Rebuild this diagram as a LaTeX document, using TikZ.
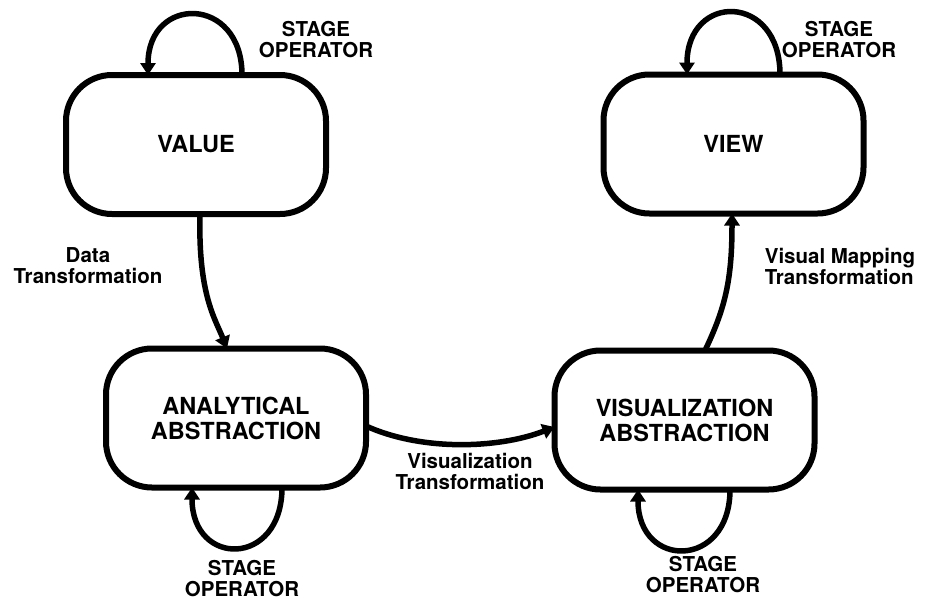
\documentclass[tikz,border=0pt]{standalone}
\usepackage{fontspec}
\setmainfont{TeX Gyre Heros}
\usetikzlibrary{arrows.meta,calc}

\tikzset{
  stage/.style={draw=black, line width=6pt, rounded corners=46pt,
    minimum width=260pt, minimum height=139pt, outer sep=0pt, inner sep=0pt,
    align=center, font=\fontsize{23.5}{25}\selectfont\bfseries},
  flow/.style={draw=black, line width=5.5pt,
    -{Triangle[width=15pt,length=12pt]}},
  lbl/.style={align=center, inner sep=0pt,
    font=\fontsize{20.5}{21}\selectfont\bfseries}
}

\begin{document}
\begin{tikzpicture}[x=1pt,y=-1pt]
  \useasboundingbox (0,0) rectangle (925,600);

  % the four stages of the pipeline
  \node[stage] (v) at (196,144.5) {VALUE};
  \node[stage] (w) at (733.5,144) {VIEW};
  \node[stage] (a) at (236,418) {ANALYTICAL\\ABSTRACTION};
  \node[stage] (z) at (684.5,420) {VISUALIZATION\\ABSTRACTION};

  % self loops for the stage operators
  \coordinate (v1) at ([xshift=46pt]v.north);
  \coordinate (v2) at ([xshift=-48pt]v.north);
  \draw[flow] (v1) .. controls ($(v1)+(0,-80)$) and ($(v2)+(0,-80)$) .. (v2);

  \coordinate (w1) at ([xshift=46.5pt]w.north);
  \coordinate (w2) at ([xshift=-46.5pt]w.north);
  \draw[flow] (w1) .. controls ($(w1)+(0,-82)$) and ($(w2)+(0,-82)$) .. (w2);

  \coordinate (a1) at ([xshift=46pt]a.south);
  \coordinate (a2) at ([xshift=-44pt]a.south);
  \draw[flow] (a1) .. controls ($(a1)+(0,80)$) and ($(a2)+(0,80)$) .. (a2);

  \coordinate (z1) at ([xshift=45.5pt]z.south);
  \coordinate (z2) at ([xshift=-46.5pt]z.south);
  \draw[flow] (z1) .. controls ($(z1)+(0,80)$) and ($(z2)+(0,80)$) .. (z2);

  % transformations between stages
  \coordinate (vs) at ([xshift=4pt]v.south);
  \coordinate (an) at ([xshift=-9pt]a.north);
  \draw[flow] (vs) .. controls ($(vs)+(-2,80)$) and ($(an)+(-12,-30)$) .. (an);

  \coordinate (ae) at ([yshift=-8pt]a.east);
  \coordinate (zw) at ([yshift=-7pt]z.west);
  \draw[flow] (ae) .. controls ($(ae)+(55,25)$) and ($(zw)+(-57,22)$) .. (zw);

  \coordinate (zn) at ([xshift=20.5pt]z.north);
  \coordinate (ws) at ([xshift=-1.5pt]w.south);
  \draw[flow] (zn) .. controls ($(zn)+(20,-42)$) and ($(ws)+(0,67)$) .. (ws);

  % labels
  \node[lbl] (l1) at (316,40) {STAGE\\OPERATOR};
  \node[lbl] (l2) at (839,40) {STAGE\\OPERATOR};
  \node[lbl] (l3) at (242,579) {STAGE\\OPERATOR};
  \node[lbl] (l4) at (703,575) {STAGE\\OPERATOR};
  \node[lbl] (l5) at (88,266) {Data\\Transformation};
  \node[lbl] (l6) at (470,471) {Visualization\\Transformation};
  \node[lbl, align=left] (l7) at (840,266) {Visual Mapping\\Transformation};
\end{tikzpicture}
\end{document}
